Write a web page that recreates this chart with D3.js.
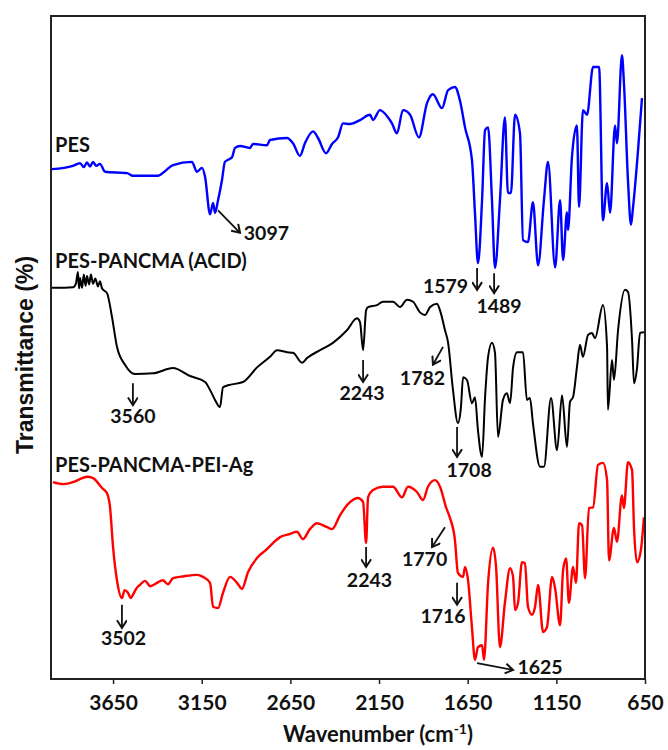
<!DOCTYPE html>
<html lang="en">
<head>
<meta charset="UTF-8">
<title>FTIR spectra</title>
<script src="https://cdnjs.cloudflare.com/ajax/libs/d3/7.8.5/d3.min.js"></script>
<style>
  body { margin: 0; background: #fff; }
  .lbl { font-family: Lato, "Open Sans", sans-serif; font-weight: bold; fill: #111; }
</style>
</head>
<body>
<div id="chart"></div>
<script>
    // wavenumber (cm-1) and transmittance (offset %)
    var pesWn = [3996,3876,3836,3815,3797,3780,3763,3745,3724,3695,3571,3538,3397,3357,3312,3205,3177,3148,3131,3103,3086,3075,3058,3036,3019,2979,2962,2934,2878,2861,2782,2765,2669,2635,2596,2568,2522,2494,2449,2415,2381,2353,2314,2257,2201,2184,2145,2099,2077,2049,2015,1975,1925,1879,1846,1795,1761,1722,1694,1665,1626,1609,1592,1569,1552,1535,1513,1496,1468,1440,1423,1406,1383,1355,1338,1310,1282,1253,1220,1197,1157,1129,1112,1090,1084,1062,1034,1022,1000,977,943,909,887,864,847,819,808,780,769,746,729,718,690,667];
    var pesT = [76.9,77.4,77.8,77.2,77.9,77.3,78.0,77.4,77.7,76.5,76.3,75.9,75.9,76.6,77.5,78.0,76.5,77.1,75.7,70.1,71.8,70.3,72.2,75.2,78.0,78.7,80.1,80.4,80.1,80.7,80.5,81.3,81.6,80.8,78.9,80.8,82.6,81.6,79.3,80.7,81.7,83.8,83.7,84.3,85.1,84.3,85.8,84.7,83.8,82.3,85.8,85.1,81.7,86.9,88.2,86.1,88.8,89.3,87.3,83.2,78.3,70.3,62.7,72.2,82.8,83.2,72.2,62.0,72.2,84.7,73.3,73.3,85.1,82.3,66.2,65.9,71.9,62.4,72.2,78.0,62.1,72.2,63.2,70.4,67.7,78.7,83.5,71.2,85.8,85.1,92.3,92.3,69.2,74.8,70.3,83.5,80.8,94.1,90.0,75.2,68.5,71.0,79.5,87.6];

    var acidWn = [3994,3876,3860,3848,3842,3836,3825,3815,3805,3797,3785,3775,3763,3750,3735,3724,3712,3684,3656,3628,3583,3526,3425,3312,3216,3131,3103,3075,3047,3030,3002,2917,2838,2765,2725,2669,2635,2584,2556,2483,2410,2331,2274,2257,2240,2223,2212,2161,2128,2071,2032,1992,1958,1919,1891,1862,1823,1806,1778,1761,1733,1705,1688,1676,1654,1626,1609,1592,1569,1552,1535,1513,1496,1479,1451,1429,1411,1394,1372,1338,1316,1299,1282,1242,1220,1180,1146,1118,1090,1073,1056,1034,1017,1000,971,949,932,887,864,859,836,825,802,763,746,723,712,695,678,656];
    var acidT = [59.0,59.1,59.6,61.4,58.9,60.5,59.0,61.0,59.3,60.8,59.5,61.0,59.6,60.4,59.2,60.0,58.9,58.2,54.6,50.1,47.4,46.0,46.1,46.9,45.7,44.8,43.6,42.1,41.0,44.0,44.3,44.8,47.0,48.6,49.6,49.3,49.2,47.7,48.4,49.6,50.7,52.6,54.4,53.8,49.6,55.6,56.1,56.4,56.9,56.9,56.1,57.2,56.9,55.3,54.9,56.1,56.6,55.6,52.6,50.8,43.6,38.6,41.0,45.5,45.1,41.6,42.5,37.5,33.5,42.5,48.6,50.7,49.2,36.5,42.1,43.1,41.6,47.0,49.3,49.3,42.1,42.4,38.6,32.0,32.0,42.4,34.5,42.8,35.0,41.8,42.5,47.0,50.4,48.6,51.9,52.2,51.4,56.4,50.1,40.6,48.1,45.1,52.6,58.7,58.4,51.1,44.6,46.9,52.2,52.3];

    var agWn = [3989,3930,3876,3840,3797,3763,3712,3684,3667,3650,3628,3600,3585,3566,3550,3538,3520,3498,3470,3440,3402,3370,3340,3312,3250,3177,3143,3103,3086,3058,3030,2990,2951,2923,2889,2833,2790,2748,2708,2660,2613,2579,2540,2500,2443,2415,2370,2331,2269,2240,2223,2212,2184,2128,2071,2020,1987,1936,1902,1874,1834,1806,1772,1750,1722,1705,1676,1665,1648,1626,1609,1592,1569,1558,1535,1507,1490,1468,1440,1411,1394,1383,1366,1344,1327,1310,1287,1270,1253,1225,1203,1174,1157,1129,1112,1095,1079,1056,1039,1022,1005,988,966,943,915,887,864,853,825,808,780,769,746,723,712,695,673,656];
    var agT = [29.7,29.4,29.7,30.1,30.5,30.3,28.8,28.0,25.9,19.9,14.9,12.2,13.4,13.0,12.2,12.7,13.6,14.2,14.8,14.0,14.5,14.9,14.3,15.2,15.5,15.7,15.4,14.5,10.9,10.7,13.0,15.4,14.5,13.6,16.1,18.4,19.4,20.5,21.4,21.8,22.2,21.1,22.6,23.5,22.9,22.6,24.7,26.2,27.3,26.7,20.5,27.4,28.5,29.0,29.0,27.4,29.0,28.2,27.0,29.0,30.0,29.0,25.9,24.3,21.0,16.0,15.4,16.9,14.9,7.8,2.9,4.8,5.1,2.9,14.5,19.8,16.9,4.8,11.5,16.7,15.4,10.4,11.5,17.6,17.5,10.9,9.7,10.9,14.2,7.1,7.8,15.4,13.7,8.1,16.4,18.2,11.5,16.9,14.5,23.5,23.2,15.2,25.8,25.9,32.3,32.6,30.0,17.9,22.8,20.7,27.7,25.8,32.7,31.5,22.8,17.6,19.5,24.4];

    var seriesNames = ["PES", "PES-PANCMA (ACID)", "PES-PANCMA-PEI-Ag"];
    var seriesColors = ["#0000ff", "#000000", "#ff0000"];
    var xTicks = [3650, 3150, 2650, 2150, 1650, 1150, 650];

    // series name anchors: [wavenumber, T]
    var nameAt = [[3977, 79.5], [3977, 62.0], [3977, 31.2]];

    // peak notes: label, label [wn, T], arrow from [wn, T] to [wn, T]
    var peakLabels = ["3097", "1579", "1489", "3560", "2243", "1782", "1708", "3502", "2243", "1770", "1716", "1625"];
    var peakText = [[2785, 66.2], [1775, 58.2], [1473, 55.2], [3538, 38.6], [2246, 42.1], [1905, 44.3], [1642, 30.5], [3591, 5.1], [2204, 13.9], [1893, 17.0], [1789, 8.4], [1242, 0.75]];
    var peakFrom = [[3058, 70.7], [1597, 62.0], [1501, 61.2], [3538, 44.6], [2240, 48.1], [1789, 50.1], [1710, 38.0], [3600, 11.2], [2223, 19.9], [1778, 22.9], [1710, 14.5], [1597, 2.4]];
    var peakTo = [[2934, 67.3], [1597, 58.7], [1501, 58.2], [3538, 41.3], [2240, 44.8], [1846, 47.4], [1710, 33.5], [3600, 7.7], [2223, 16.9], [1851, 19.9], [1710, 11.2], [1394, 1.36]];

    var width = 668, height = 750,
        margin = {top: 16, right: 23, bottom: 71, left: 51};

    var x = d3.scaleLinear()
        .domain([4000, 650])
        .range([margin.left, width - margin.right]);
    var y = d3.scaleLinear()
        .domain([0, 100])
        .range([height - margin.bottom, margin.top]);

    var svg = d3.select("#chart")
        .append("svg")
        .attr("width", width)
        .attr("height", height);

    svg.append("defs").append("marker")
        .attr("id", "head")
        .attr("viewBox", "0 -5 10 10")
        .attr("refX", 8)
        .attr("refY", 0)
        .attr("markerUnits", "userSpaceOnUse")
        .attr("markerWidth", 11)
        .attr("markerHeight", 11)
        .attr("orient", "auto")
        .append("path")
        .attr("d", "M1,-4.5L8,0L1,4.5")
        .attr("fill", "none")
        .attr("stroke", "#111")
        .attr("stroke-width", 1.8);

    var line = d3.line()
        .x(function(d) { return x(d[0]); })
        .y(function(d) { return y(d[1]); })
        .curve(d3.curveMonotoneX);

    var series = [d3.zip(pesWn, pesT), d3.zip(acidWn, acidT), d3.zip(agWn, agT)];

    svg.selectAll(".spec")
        .data(series)
        .enter().append("path")
        .attr("class", "spec")
        .attr("d", line)
        .attr("fill", "none")
        .attr("stroke", function(d, i) { return seriesColors[i]; })
        .attr("stroke-width", function(d, i) { return i == 1 ? 2 : 2.4; })
        .attr("stroke-linejoin", "round");

    // frame
    svg.append("rect")
        .attr("x", x(4000))
        .attr("y", y(100))
        .attr("width", x(650) - x(4000))
        .attr("height", y(0) - y(100))
        .attr("fill", "none")
        .attr("stroke", "#222")
        .attr("stroke-width", 2);

    var xAxis = svg.append("g")
        .attr("transform", "translate(0," + y(0) + ")")
        .call(d3.axisBottom(x).tickValues(xTicks).tickFormat(d3.format("d")).tickSize(5).tickPadding(11));
    xAxis.select(".domain").remove();
    xAxis.selectAll(".tick line").attr("stroke", "#222").attr("stroke-width", 1.5);
    xAxis.selectAll("text")
        .attr("class", "lbl")
        .style("font-size", "21px");

    svg.selectAll(".sname")
        .data(seriesNames)
        .enter().append("text")
        .attr("class", "lbl sname")
        .attr("x", function(d, i) { return x(nameAt[i][0]); })
        .attr("y", function(d, i) { return y(nameAt[i][1]); })
        .style("font-size", "20px")
        .text(function(d) { return d; });

    svg.selectAll(".arrow")
        .data(peakLabels)
        .enter().append("line")
        .attr("class", "arrow")
        .attr("x1", function(d, i) { return x(peakFrom[i][0]); })
        .attr("y1", function(d, i) { return y(peakFrom[i][1]); })
        .attr("x2", function(d, i) { return x(peakTo[i][0]); })
        .attr("y2", function(d, i) { return y(peakTo[i][1]); })
        .attr("stroke", "#111")
        .attr("stroke-width", 1.8)
        .attr("marker-end", "url(#head)");

    svg.selectAll(".peak")
        .data(peakLabels)
        .enter().append("text")
        .attr("class", "lbl peak")
        .attr("x", function(d, i) { return x(peakText[i][0]); })
        .attr("y", function(d, i) { return y(peakText[i][1]); })
        .attr("text-anchor", "middle")
        .style("font-size", "19.5px")
        .text(function(d) { return d; });

    // axis titles
    var xt = svg.append("text")
        .attr("class", "lbl")
        .attr("x", 378)
        .attr("y", 742)
        .attr("text-anchor", "middle")
        .style("font-size", "22px");
    xt.append("tspan").text("Wavenumber (cm");
    xt.append("tspan").attr("dy", -8).style("font-size", "14px").text("-1");
    xt.append("tspan").attr("dy", 8).text(")");

    svg.append("text")
        .attr("transform", "translate(33," + 355 + ") rotate(-90)")
        .attr("text-anchor", "middle")
        .style("font-family", "'Liberation Sans', Arial, sans-serif")
        .style("font-weight", "bold")
        .style("font-size", "23px")
        .style("fill", "#111")
        .text("Transmittance (%)");
</script>
</body>
</html>
